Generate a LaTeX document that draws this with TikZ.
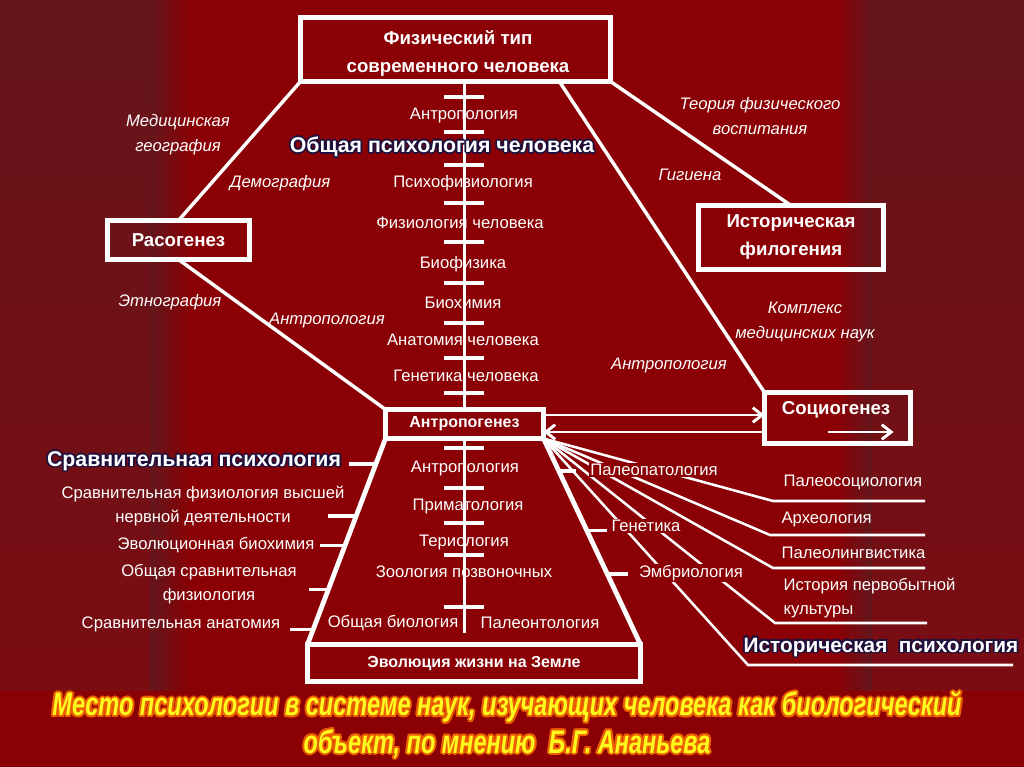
\documentclass[tikz,border=0pt]{standalone}
\usepackage{fontspec}
\setmainfont{Liberation Sans}
\newfontfamily\titlefont[FakeStretch=0.72]{Liberation Sans}
\usetikzlibrary{calc,arrows.meta}
\definecolor{bgred}{RGB}{138,0,4}
\definecolor{paneltop}{RGB}{100,22,28}
\definecolor{panelbot}{RGB}{122,12,18}
\definecolor{strip}{RGB}{40,2,8}
\definecolor{halo}{RGB}{28,16,62}
\definecolor{titleyellow}{RGB}{255,250,30}
\definecolor{titleglow}{RGB}{235,95,0}
\newcommand\hc[4]{\makebox[0pt][l]{\kern#2\raisebox{#3}{\textcolor{#1}{#4}}}}
\newcommand\navyhalo[1]{\hc{halo}{-1.3pt}{0pt}{#1}\hc{halo}{1.3pt}{0pt}{#1}\hc{halo}{0pt}{1.3pt}{#1}\hc{halo}{0pt}{-1.3pt}{#1}\hc{halo}{-.9pt}{.9pt}{#1}\hc{halo}{.9pt}{.9pt}{#1}\hc{halo}{-.9pt}{-.9pt}{#1}\hc{halo}{.9pt}{-.9pt}{#1}#1}
\newcommand\orangehalo[1]{\hc{titleglow}{-1.6pt}{0pt}{#1}\hc{titleglow}{1.6pt}{0pt}{#1}\hc{titleglow}{0pt}{1.6pt}{#1}\hc{titleglow}{0pt}{-1.6pt}{#1}\hc{titleglow}{-1.1pt}{1.1pt}{#1}\hc{titleglow}{1.1pt}{1.1pt}{#1}\hc{titleglow}{-1.1pt}{-1.1pt}{#1}\hc{titleglow}{1.1pt}{-1.1pt}{#1}#1}
\begin{document}
\begin{tikzpicture}[x=0.75pt,y=-0.75pt,
  box/.style={draw=white,line width=3.75pt,inner sep=0pt,outer sep=0pt,text=white,align=center,font=\bfseries\fontsize{14}{21}\selectfont},
  conn/.style={draw=white,line width=2.6pt},
  side/.style={draw=white,line width=3.6pt},
  bar/.style={draw=white,line width=3pt},
  tick/.style={draw=white,line width=2.6pt},
  fanl/.style={draw=white,line width=1.9pt},
  lbl/.style={text=white,inner sep=1pt,align=center,font=\fontsize{12.5}{18}\selectfont},
  ilbl/.style={text=white,inner sep=1pt,align=center,font=\itshape\fontsize{12.5}{18.5}\selectfont},
  mask/.style={fill=bgred},
  big/.style={text=white,inner sep=1pt,font=\bfseries\fontsize{16}{20}\selectfont},
  arr/.style={draw=white,line width=2.2pt,-{Straight Barb[length=7pt,width=11pt]}},
  title/.style={text=titleyellow,inner sep=0pt,font=\titlefont\bfseries\itshape\fontsize{24.5}{30}\selectfont}]
\useasboundingbox (0,0) rectangle (1024,767);
% background
\fill[bgred] (0,0) rectangle (1024,767);
\shade[top color=paneltop,bottom color=panelbot] (0,0) rectangle (160,690);
\shade[left color=paneltop,middle color=strip,right color=bgred] (150,0) rectangle (192,690);
\shade[top color=paneltop,bottom color=panelbot] (860,0) rectangle (1024,690);
\shade[left color=bgred,middle color=strip!70!bgred,right color=paneltop] (836,0) rectangle (872,690);
% boxes
\node[box,minimum width=232.5pt,minimum height=48pt] (phys) at (455.5,49.5) {};
\node[text=white,inner sep=0pt,align=center,font=\bfseries\fontsize{14}{21}\selectfont] (physt) at (458,53) {Физический тип\\современного человека};
\node[box,minimum width=106.5pt,minimum height=29.25pt] (ras) at (178.5,240) {Расогенез};
\node[box,minimum width=138.75pt,minimum height=48pt] (hist) at (791,237.5) {Историческая\\филогения};
\node[box,line width=3.2pt,minimum width=118.5pt,minimum height=21.75pt,font=\bfseries\fontsize{12}{14}\selectfont] (anth) at (464.5,424) {Антропогенез};
\node[box,minimum width=109.5pt,minimum height=38.25pt] (socio) at (837.5,418) {};
\node[text=white,inner sep=0pt,font=\bfseries\fontsize{14}{16}\selectfont] (sociot) at (836,410) {Социогенез};
\node[box,minimum width=249.75pt,minimum height=27.75pt,font=\bfseries\fontsize{12}{14}\selectfont] (evol) at (474,663) {Эволюция жизни на Земле};
% main connectors
\draw[conn] (phys.south west) -- (ras.north);
\draw[conn] (ras.south) -- (anth.north west);
\coordinate (pr) at ($(phys.south west)!0.835!(phys.south east)$);
\draw[conn] (pr) -- (socio.north west);
\draw[conn] (phys.south east) -- (hist.north);
\draw[side] (anth.south west) -- (evol.north west);
\draw[side] (anth.south east) -- (evol.north east);
% central column
\coordinate (ctop) at (anth.north |- phys.south);
\draw[conn] (ctop) -- (anth.north);
\foreach \y in {97,132,165,203,242,283,323,358,393} \draw[bar] (444,\y) -- (484,\y);
\coordinate (cbot) at (464.5,633);
\draw[conn] (anth.south) -- (cbot);
\foreach \y in {448,488,523,555,607} \draw[bar] (444,\y) -- (484,\y);
% arrows between Антропогенез and Социогенез
\coordinate (a1) at ($(anth.east)+(0,-9)$);
\coordinate (a2) at ($(anth.east)+(0,8)$);
\draw[arr] (a1) -- (a1 -| socio.west);
\draw[arr] (a2 -| socio.west) -- (a2);
\draw[arr] ($(socio.center)+(-10,14)$) -- ($(socio.center)+(56,14)$);
% left ticks
\coordinate (L1) at ($(anth.south west)!0.124!(evol.north west)$);
\coordinate (L2) at ($(anth.south west)!0.376!(evol.north west)$);
\coordinate (L3) at ($(anth.south west)!0.52!(evol.north west)$);
\coordinate (L4) at ($(anth.south west)!0.733!(evol.north west)$);
\coordinate (L5) at ($(anth.south west)!0.926!(evol.north west)$);
\draw[tick] (L1) -- ++(-27,0);
\draw[tick] (L2) -- ++(-28,0);
\draw[tick] (L3) -- ++(-25,0);
\draw[tick] (L4) -- ++(-19,0);
\draw[tick] (L5) -- ++(-23,0);
% right ticks
\coordinate (R1) at ($(anth.south east)!0.158!(evol.north east)$);
\coordinate (R2) at ($(anth.south east)!0.446!(evol.north east)$);
\coordinate (R3) at ($(anth.south east)!0.658!(evol.north east)$);
\draw[tick] (R1) -- ++(17,0);
\draw[tick] (R2) -- ++(20,0);
\draw[tick] (R3) -- ++(21,0);
% fan
\coordinate (fan) at (anth.south east);
\coordinate (us1) at (773,501); \coordinate (ue1) at (925,501);
\coordinate (us2) at (770,535); \coordinate (ue2) at (925,535);
\coordinate (us3) at (773,568); \coordinate (ue3) at (925,568);
\coordinate (us4) at (775,623); \coordinate (ue4) at (927,623);
\coordinate (us5) at (748,665); \coordinate (ue5) at (1013,665);
\foreach \i in {1,...,5} {\draw[fanl] (fan) -- (us\i) -- (ue\i);}
% italic side labels
\node[ilbl] (medgeo) at (178,135) {Медицинская\\география};
\node[ilbl] (demog) at (280,183) {Демография};
\node[ilbl] (ethno) at (170,302) {Этнография};
\node[ilbl] (anthl) at (327,320) {Антропология};
\node[ilbl] (theory) at (760,116) {Теория физического\\воспитания};
\node[ilbl] (hyg) at (690,175) {Гигиена};
\node[ilbl] (medcomp) at (805,322) {Комплекс\\медицинских наук};
\node[ilbl] (anthr) at (669,365) {Антропология};
% central labels
\node[lbl] (c1) at (464,115) {Антропология};
\node[big] (gen) at (442,147) {\navyhalo{Общая психология человека}};
\node[lbl] (c2) at (463,183) {Психофизиология};
\node[lbl] (c3) at (460,223) {Физиология человека};
\node[lbl] (c4) at (463,264) {Биофизика};
\node[lbl] (c5) at (463,303) {Биохимия};
\node[lbl] (c6) at (463,340) {Анатомия человека};
\node[lbl] (c7) at (466,376) {Генетика человека};
\node[lbl] (d1) at (465,468) {Антропология};
\node[lbl] (d2) at (468,506) {Приматология};
\node[lbl] (d3) at (464,542) {Териология};
\node[lbl] (d4) at (464,572) {Зоология позвоночных};
\node[lbl] (d5) at (393,623) {Общая биология};
\node[lbl] (d6) at (540,623) {Палеонтология};
% left lower labels
\node[big] (cmp) at (194,461) {\navyhalo{Сравнительная психология}};
\node[lbl] (e1) at (203,506) {Сравнительная физиология высшей\\нервной деятельности};
\node[lbl] (e2) at (216,545) {Эволюционная биохимия};
\node[lbl] (e3) at (209,584) {Общая сравнительная\\физиология};
\node[lbl] (e4) at (181,624) {Сравнительная анатомия};
% right lower labels
\node[lbl,mask] (f1) at (654,470) {Палеопатология};
\node[lbl,mask] (f2) at (646,526) {Генетика};
\node[lbl,mask] (f3) at (691,573) {Эмбриология};
\node[lbl,anchor=west] (g1) at (782,482) {Палеосоциология};
\node[lbl,anchor=west] (g2) at (780,519) {Археология};
\node[lbl,anchor=west] (g3) at (780,553) {Палеолингвистика};
\node[lbl,anchor=west,align=left] (g4) at (782,598) {История первобытной\\культуры};
\node[big,font=\bfseries\fontsize{15.6}{20}\selectfont] (hpsy) at (881,647) {\navyhalo{Историческая\ \ психология}};
% title
\node[title] (t1) at (507,707) {\orangehalo{Место психологии в системе наук, изучающих человека как биологический}};
\node[title] (t2) at (507,744) {\orangehalo{объект, по мнению\ \ Б.Г. Ананьева}};
\end{tikzpicture}
\end{document}
